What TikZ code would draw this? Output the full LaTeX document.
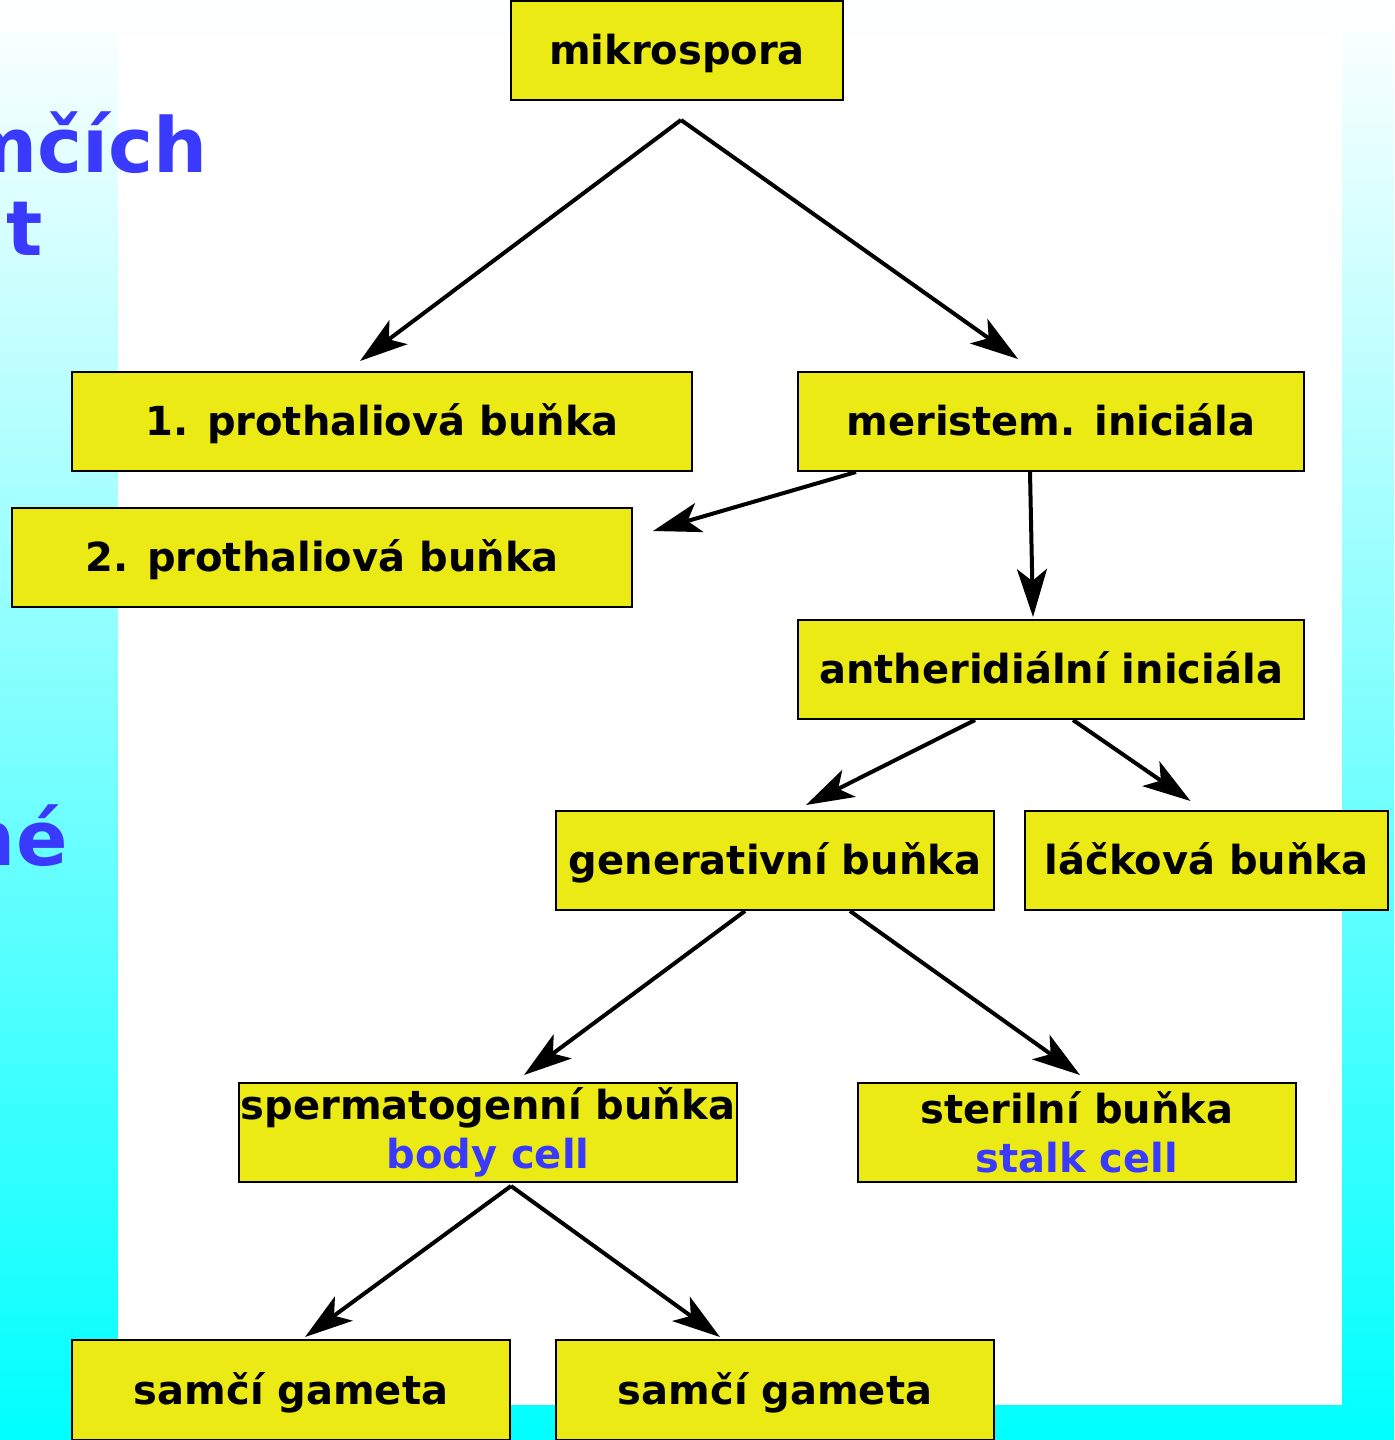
\documentclass[tikz,border=0pt]{standalone}
\usepackage{fontspec}
\setmainfont{DejaVu Sans}
\usetikzlibrary{arrows.meta}

\definecolor{boxyellow}{RGB}{236,234,20}
\definecolor{txtblue}{RGB}{58,58,255}

\tikzset{
  cellbox/.style={draw=black, line width=1pt, fill=boxyellow, inner sep=0pt,
    minimum height=49.5pt, align=center, text height=19pt, text depth=5pt,
    font=\bfseries\fontsize{20}{24.5}\selectfont},
  twoline/.style={text height=, text depth=},
  arr/.style={-{Stealth[length=24pt,width=15pt,inset=6pt]}, line width=2pt},
  sidetext/.style={text=txtblue, inner sep=0pt, font=\bfseries\fontsize{38}{40}\selectfont}
}

\begin{document}
\begin{tikzpicture}[x=0.5pt,y=-0.5pt]
      \useasboundingbox (0,0) rectangle (1394,1440);
      \clip (0,0) rectangle (1394,1440);
      % background
      \shade[top color=white, bottom color=cyan] (0,0) rectangle (1394,1440);
      \fill[white] (118,33) rectangle (1342,1405);
      % cut off slide text
      \node[sidetext, anchor=base east] (frag1) at (208,172) {mčích};
      \node[sidetext, anchor=base east] (frag2) at (43,255) {t};
      \node[sidetext, anchor=base east] (frag3) at (68,865) {né};
      % cells
      \node[cellbox, minimum width=166pt] (mikro) at (677,50.5) {mikrospora};
      \node[cellbox, minimum width=310pt] (proth1) at (382,421.5) {1. prothaliová buňka};
      \node[cellbox, minimum width=253pt] (merist) at (1051,421.5) {meristem. iniciála};
      \node[cellbox, minimum width=310pt] (proth2) at (322,557.5) {2. prothaliová buňka};
      \node[cellbox, minimum width=253pt] (anther) at (1051,669.5) {antheridiální iniciála};
      \node[cellbox, minimum width=219pt] (gener) at (775,860.5) {generativní buňka};
      \node[cellbox, minimum width=181.5pt] (lacka) at (1206.5,860.5) {láčková buňka};
      \node[cellbox, twoline, minimum width=249pt] (sperm) at (488,1132.5) {spermatogenní buňka\\\textcolor{txtblue}{body cell}};
      \node[cellbox, twoline, minimum width=219pt] (steril) at (1077,1132.5) {sterilní buňka\\\textcolor{txtblue}{stalk cell}};
      \node[cellbox, minimum width=219pt, minimum height=50pt] (gam1) at (291,1390) {samčí gameta};
      \node[cellbox, minimum width=219pt, minimum height=50pt] (gam2) at (775,1390) {samčí gameta};
      % arrows
      \coordinate (split1) at (681,120);
      \coordinate (split2) at (511,1186);
      \draw[arr] (split1) -- ([xshift=-11pt,yshift=5pt]proth1.north);
      \draw[arr] (split1) -- ([xshift=-16.5pt,yshift=6pt]merist.north);
      \draw[arr] ([xshift=29.5pt]merist.south west) -- ([xshift=10pt,yshift=-12pt]proth2.north east);
      \draw[arr] ([xshift=-10.5pt]merist.south) -- ([xshift=-9pt,yshift=1pt]anther.north);
      \draw[arr] ([xshift=-38pt]anther.south) -- ([xshift=15.5pt,yshift=2.5pt]gener.north);
      \draw[arr] ([xshift=11pt]anther.south) -- ([xshift=-8pt,yshift=4.5pt]lacka.north);
      \draw[arr] ([xshift=-15pt]gener.south) -- ([xshift=18pt,yshift=3.5pt]sperm.north);
      \draw[arr] ([xshift=37.5pt]gener.south) -- ([xshift=1.5pt,yshift=3.5pt]steril.north);
      \draw[arr] (split2) -- ([xshift=7pt,yshift=1pt]gam1.north);
      \draw[arr] (split2) -- ([xshift=-27.5pt,yshift=1pt]gam2.north);
\end{tikzpicture}
\end{document}
